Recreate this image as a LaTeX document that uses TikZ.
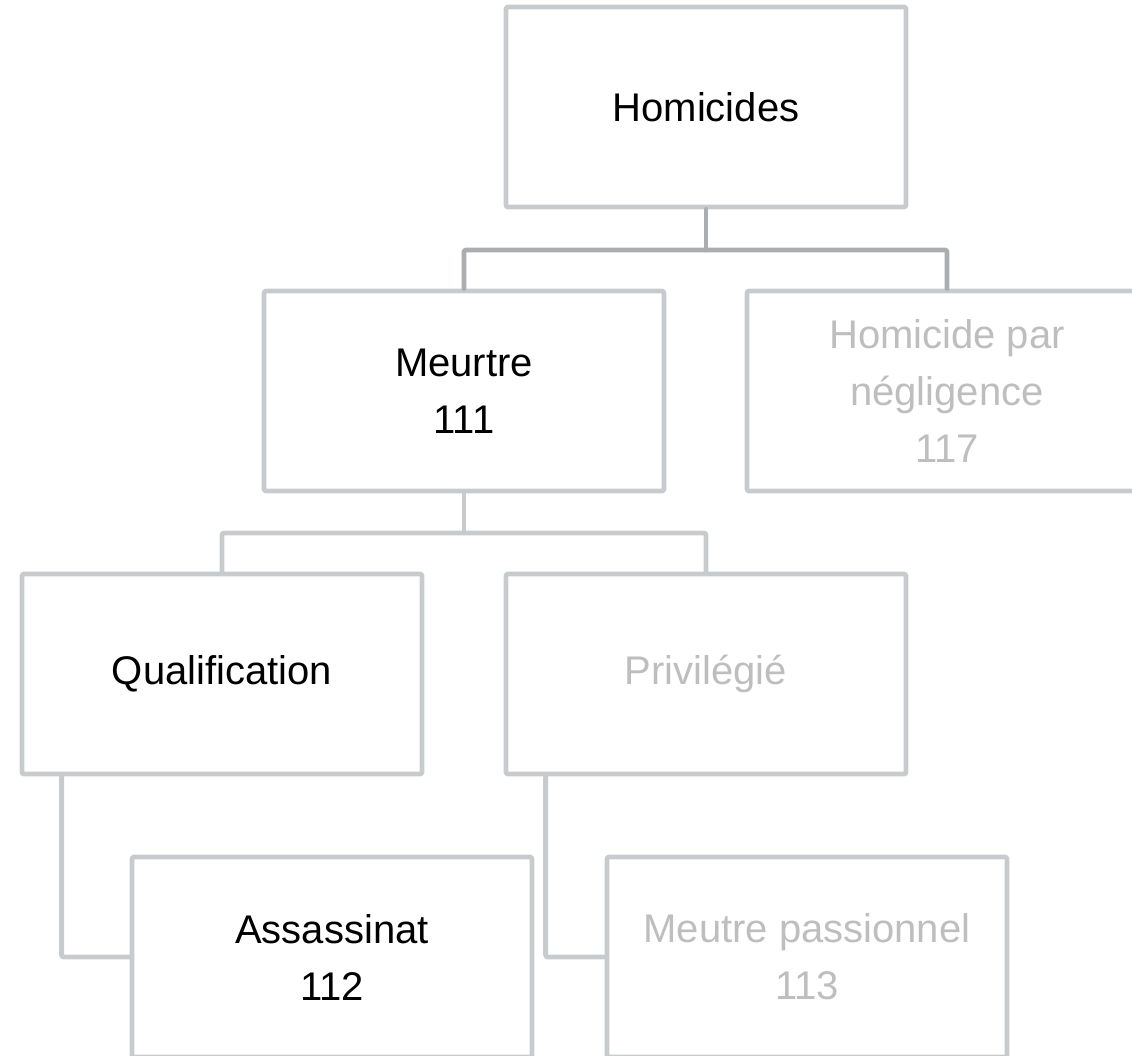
\documentclass[tikz,border=0pt]{standalone}
\usepackage{fontspec}
\setmainfont{Liberation Sans}
\usepackage{tikz}
\definecolor{boxgray}{HTML}{C8CBCE}
\definecolor{linkgray}{HTML}{ABAEB1}
\definecolor{txtgray}{HTML}{BEBEBE}

\begin{document}
\begin{tikzpicture}[line cap=round,line join=round,x=0.5pt,y=-0.5pt,
  box/.style={draw=boxgray,line width=2.4pt,rounded corners=1pt,minimum width=200pt,minimum height=100pt,inner sep=0pt,align=center,font=\fontsize{20}{28.5}\selectfont},
  off/.style={box,text=txtgray},
  link/.style={draw=boxgray,line width=2.4pt,rounded corners=1pt}]
\useasboundingbox (0,0) rectangle (1132,1056);
\clip (0,0) rectangle (1132,1056);
\node[box] (hom) at (706,107) {Homicides};
\node[box] (meu) at (464,391) {Meurtre\\111};
\node[off] (neg) at (947,391) {Homicide par\\négligence\\117};
\node[box] (qua) at (222,674) {Qualification};
\node[off] (pri) at (706,674) {Privilégié};
\node[box] (ass) at (332,957) {Assassinat\\112};
\node[off] (pas) at (807,957) {Meutre passionnel\\113};
\coordinate (hj) at (706,250);
\coordinate (mj) at (464,533);
\draw[link,draw=linkgray] (hom.south) -- (hj);
\draw[link,draw=linkgray] (meu.north) |- (hj) -| (neg.north);
\draw[link] (meu.south) -- (mj);
\draw[link] (qua.north) |- (mj) -| (pri.north);
\draw[link] ([xshift=21pt]qua.south west) |- (ass.west);
\draw[link] ([xshift=21pt]pri.south west) |- (pas.west);
\end{tikzpicture}
\end{document}
